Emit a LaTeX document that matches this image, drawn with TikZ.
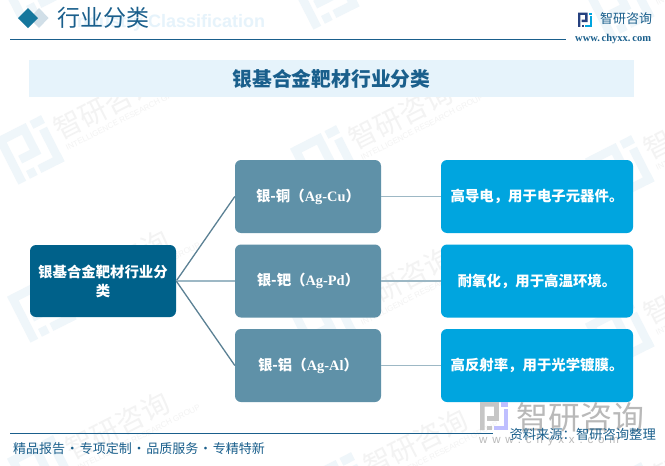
\documentclass[tikz,border=0pt]{standalone}
\usepackage{fontspec}
\setmainfont{Noto Sans CJK SC}
\newfontfamily\latinsans{Liberation Sans}
\newfontfamily\latinserif{Liberation Serif}
\newfontfamily\spacedsans[LetterSpace=42]{Liberation Sans}
\usetikzlibrary{positioning,calc}
\definecolor{rootblue}{HTML}{00618A}
\definecolor{midblue}{HTML}{5F91A8}
\definecolor{leafblue}{HTML}{00A5DF}
\definecolor{bandblue}{HTML}{E6F3FB}
\definecolor{inkblue}{HTML}{1A5F8C}
\definecolor{linkdark}{HTML}{5B8194}
\definecolor{linklight}{HTML}{9DB8C5}
\definecolor{wmgray}{HTML}{F3F3F3}
\definecolor{wmblue}{HTML}{EFF6FA}
\definecolor{logonavy}{HTML}{26417F}
\tikzset{
	box/.style={rounded corners=6pt,inner sep=2pt,align=center,text=white,font=\bfseries\fontsize{14.4}{19}\selectfont},
	rootbox/.style={box,fill=rootblue,minimum width=146pt,minimum height=72pt},
	midbox/.style={box,fill=midblue,minimum width=146pt,minimum height=73pt},
	leafbox/.style={box,fill=leafblue,minimum width=192pt,minimum height=73pt},
	link/.style={line width=1.3pt,linkdark},
	linkpale/.style={line width=1.3pt,linklight},
	footer/.style={text=inkblue,inner sep=0pt,font=\fontsize{13}{15}\selectfont}
}
% logo drawn in a 12x12 box, first colour left part, second colour right part
\newcommand{\logoshape}[2]{%
	\fill[#1] (0,0) -- (8,0) -- (8,8) -- (3,8) -- (3,6) -- (6,6) -- (6,2) -- (2,2) -- (2,12) -- (0,12) -- cycle;
	\fill[#1] (3,10) rectangle (5,12);
	\fill[#2] (9,0) rectangle (12,2);
	\fill[#2] (10,3) rectangle (12,12);
	\fill[#2] (6,10) rectangle (12,12);
}
\newcommand{\wmark}[2]{%
	\begin{scope}[shift={(#1,#2)},rotate=27,transform shape]
		\begin{scope}[shift={(-26,-26)},scale=4.3]
			\logoshape{wmblue}{wmblue}
		\end{scope}
		\node[anchor=west,text=wmgray,inner sep=0pt,font=\fontsize{28}{28}\selectfont] at (31,-5) {智研咨询};
		\node[anchor=west,text=wmgray,inner sep=0pt,font=\latinsans\fontsize{8}{8}\selectfont] at (33,15) {INTELLIGENCE RESEARCH GROUP};
	\end{scope}
}
\begin{document}
\begin{tikzpicture}[x=1pt,y=-1pt]
\useasboundingbox (0,0) rectangle (665,466);
\fill[white] (0,0) rectangle (665,466);
% watermarks
\foreach \wx/\wy in {30/-15,325/-5,620/5,30/150,325/160,620/170,42/308,325/325,620/335,42/470,340/487,630/497}{
	\wmark{\wx}{\wy}
}
% header
\fill[inkblue!20!white] (39,8) -- (48.5,18) -- (39,28) -- (29.5,18) -- cycle;
\fill[inkblue!85!cyan] (28,8) -- (38,18) -- (28,28) -- (18,18) -- cycle;
\node[anchor=west,inner sep=0pt,text=bandblue,font=\latinsans\bfseries\fontsize{18}{18}\selectfont] (ghost) at (72,23) {Industry Classification};
\node[anchor=west,inner sep=0pt,text=inkblue,font=\fontsize{23}{23}\selectfont] (pagetitle) at (57,18) {行业分类};
\draw[inkblue,line width=0.9pt] (10,39) -- (566,39);
\begin{scope}[shift={(578,12.5)},scale=1.2]
	\logoshape{logonavy}{leafblue}
\end{scope}
\node[anchor=west,inner sep=0pt,text=inkblue,font=\fontsize{13}{13}\selectfont] (brand) at (600,19) {智研咨询};
\node[anchor=west,inner sep=0pt,text=inkblue,font=\latinserif\bfseries\fontsize{10.5}{11}\selectfont] (site) at (575,39) {www.\,chyxx.\,com};
% title band
\node[fill=bandblue,minimum width=605pt,minimum height=37pt,inner sep=0pt,text=inkblue,font=\bfseries\fontsize{19.8}{20}\selectfont] (band) at (331.5,78.5) {银基合金靶材行业分类};
% boxes
\node[rootbox] (root) at (103,281) {银基合金靶材行业分\\类};
\node[midbox] (cu) at (308,196.5) {银-铜（{\latinserif Ag-Cu}）};
\node[midbox] (pd) at (308,281) {银-钯（{\latinserif Ag-Pd}）};
\node[midbox] (al) at (308,365.5) {银-铝（{\latinserif Ag-Al}）};
\node[leafbox] (cuuse) at (537,196.5) {高导电，用于电子元器件。};
\node[leafbox] (pduse) at (537,281) {耐氧化，用于高温环境。};
\node[leafbox] (aluse) at (537,365.5) {高反射率，用于光学镀膜。};
% connectors
\draw[link] (root.east) -- (cu.west);
\draw[linkpale] (root.east) -- (pd.west);
\draw[link] (root.east) -- (al.west);
\foreach \a/\b in {cu/cuuse,pd/pduse,al/aluse}{
	\draw[linkpale] (\a.east) -- (\b.west);
}
% footer
\begin{scope}[shift={(480,402)},scale=2.35]
	\logoshape{gray!45}{blue!25!white}
\end{scope}
\node[anchor=west,inner sep=0pt,text=gray!55,font=\fontsize{32}{32}\selectfont] (graybrand) at (516,417) {智研咨询};
\node[anchor=west,inner sep=0pt,text=gray!55,font=\spacedsans\fontsize{11.5}{12}\selectfont] (graysite) at (479,441) {www.chyxx.com};
\draw[inkblue,line width=0.9pt] (10,433) -- (493,433);
\node[footer,anchor=west] (slogan) at (13,449) {精品报告\hspace{0.8pt}·\hspace{0.8pt}专项定制\hspace{0.8pt}·\hspace{0.8pt}品质服务\hspace{0.8pt}·\hspace{0.8pt}专精特新};
\node[footer,anchor=east,font=\fontsize{13.3}{15}\selectfont] (source) at (656,434) {资料来源：智研咨询整理};
\end{tikzpicture}
\end{document}
